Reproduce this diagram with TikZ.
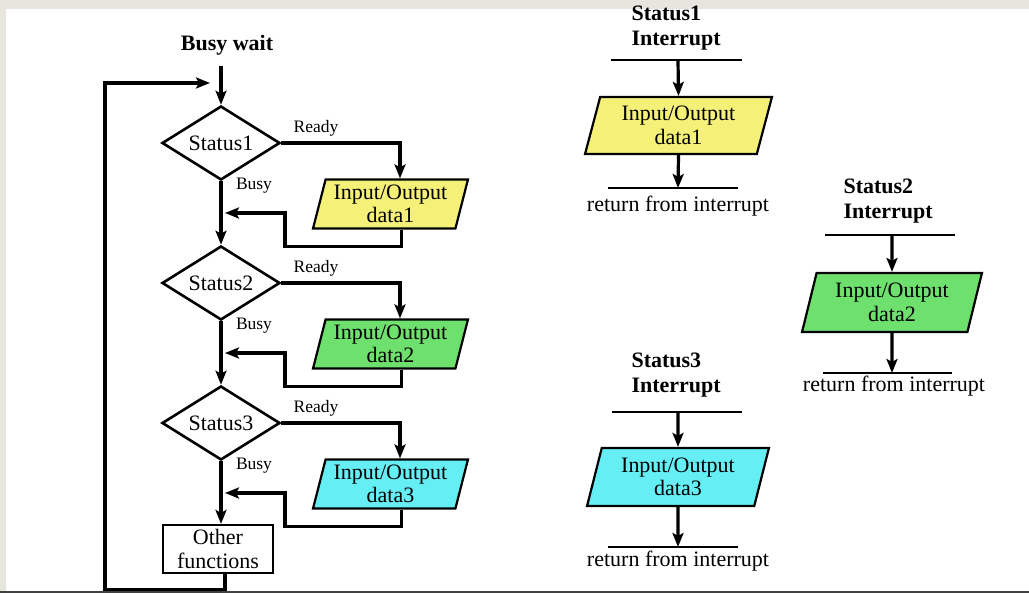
\documentclass[tikz,border=0pt]{standalone}
\usepackage{fontspec}
\setmainfont{Liberation Serif}
\usetikzlibrary{arrows.meta,shapes.geometric}
\definecolor{framegray}{HTML}{E6E6DE}
\definecolor{bottomline}{HTML}{404040}
\definecolor{ioyellow}{HTML}{F5F078}
\definecolor{iogreen}{HTML}{6EE06E}
\definecolor{iocyan}{HTML}{66EEF5}
\begin{document}
\begin{tikzpicture}[x=1pt,y=-1pt,
  every node/.style={font=\fontsize{22}{23.5}\selectfont},
  arr/.style={line width=3.2pt,-{Stealth[length=14pt,width=11pt,inset=3pt]}},
  dia/.style={diamond,draw,line width=2.6pt,aspect=1.6,minimum width=118pt,minimum height=74pt,inner sep=0pt},
  par/.style={trapezium,trapezium left angle=74,trapezium right angle=106,trapezium stretches=true,draw,line width=2.2pt,inner sep=0pt,align=center},
  lab/.style={font=\fontsize{17.5}{19}\selectfont},
  ttl/.style={font=\fontsize{22}{25}\selectfont\bfseries,align=left},
  bar/.style={line width=2.2pt},
  box/.style={draw,line width=2.2pt,minimum width=110pt,minimum height=48pt,align=center,inner sep=0pt}
]
\useasboundingbox (0,0) rectangle (1029,593);
% frame
\fill[white] (0,0) rectangle (1029,593);
\fill[framegray] (0,0) rectangle (1029,9);
\fill[framegray] (0,0) rectangle (6,593);
\fill[bottomline] (0,590.5) rectangle (1029,593);

% ---------- left: busy wait ----------
\node[ttl] (bw) at (227,45) {Busy wait};
\coordinate (bwa) at (221,66);
\coordinate (j0) at (221,83);
\node[dia] (s1) at (221,143) {Status1};
\node[dia] (s2) at (221,283) {Status2};
\node[dia] (s3) at (221,423) {Status3};
\node[par,fill=ioyellow,minimum width=155pt,minimum height=49pt] (p1) at (390.5,204) {Input/Output\\data1};
\node[par,fill=iogreen,minimum width=155pt,minimum height=49pt] (p2) at (390.5,344) {Input/Output\\data2};
\node[par,fill=iocyan,minimum width=155pt,minimum height=49pt] (p3) at (390.5,484) {Input/Output\\data3};
\node[box] (of) at (218,549) {Other\\functions};
\coordinate (m1) at (221,213);
\coordinate (m2) at (221,353);
\coordinate (m3) at (221,493);

\node[lab] (rd1) at (316,128) {Ready};
\node[lab] (rd2) at (316,268) {Ready};
\node[lab] (rd3) at (316,408) {Ready};
\node[lab] (bz1) at (254,186) {Busy};
\node[lab] (bz2) at (254,326) {Busy};
\node[lab] (bz3) at (254,466) {Busy};

\draw[arr] (bwa) -- (s1.north);
\draw[arr] (s1.east) -| ([xshift=9.5pt]p1.north);
\draw[arr] (s2.east) -| ([xshift=9.5pt]p2.north);
\draw[arr] (s3.east) -| ([xshift=9.5pt]p3.north);
\draw[arr] ([xshift=11pt]p1.south) -- ++(0,17) -| ([xshift=64pt]m1) -- ([xshift=4pt]m1);
\draw[arr] ([xshift=11pt]p2.south) -- ++(0,17) -| ([xshift=64pt]m2) -- ([xshift=4pt]m2);
\draw[arr] ([xshift=11pt]p3.south) -- ++(0,17) -| ([xshift=64pt]m3) -- ([xshift=4pt]m3);
\draw[arr] (s1.south) -- (s2.north);
\draw[arr] (s2.south) -- (s3.north);
\draw[arr] (s3.south) -- (s3.south |- of.north);
\draw[arr] ([xshift=7pt]of.south) -- ++(0,15) -| ([xshift=-116pt]j0) -- ([xshift=-11pt]j0);

% ---------- right: interrupts ----------
% Status1
\node[ttl,anchor=west] (t1) at (628,28.5) {Status1\\Interrupt};
\coordinate (a1) at (678,60);
\draw[bar] ([xshift=-67pt]a1) -- ([xshift=64pt]a1);
\node[par,fill=ioyellow,minimum width=187pt,minimum height=57pt] (q1) at (678.5,125.5) {Input/Output\\data1};
\coordinate (e1) at (678,188);
\draw[bar] ([xshift=-70pt]e1) -- ([xshift=60pt]e1);
\draw[arr] (a1) -- (q1.north);
\draw[arr] (q1.south) -- (e1);
\node (ret1) at (678,206) {return from interrupt};

% Status2
\node[ttl,anchor=west] (t2) at (840,201) {Status2\\Interrupt};
\coordinate (a2) at (892,235);
\draw[bar] ([xshift=-67pt]a2) -- ([xshift=63pt]a2);
\node[par,fill=iogreen,minimum width=180pt,minimum height=59pt] (q2) at (892,302.5) {Input/Output\\data2};
\coordinate (e2) at (892,373);
\draw[bar] ([xshift=-69pt]e2) -- ([xshift=60pt]e2);
\draw[arr] (a2) -- (q2.north);
\draw[arr] (q2.south) -- (e2);
\node (ret2) at (894,386) {return from interrupt};

% Status3
\node[ttl,anchor=west] (t3) at (628,375) {Status3\\Interrupt};
\coordinate (a3) at (678,412);
\draw[bar] ([xshift=-66pt]a3) -- ([xshift=64pt]a3);
\node[par,fill=iocyan,minimum width=182pt,minimum height=58pt] (q3) at (678,477) {Input/Output\\data3};
\coordinate (e3) at (678,547);
\draw[bar] ([xshift=-70pt]e3) -- ([xshift=60pt]e3);
\draw[arr] (a3) -- (q3.north);
\draw[arr] (q3.south) -- (e3);
\node (ret3) at (678,561) {return from interrupt};
\end{tikzpicture}
\end{document}
